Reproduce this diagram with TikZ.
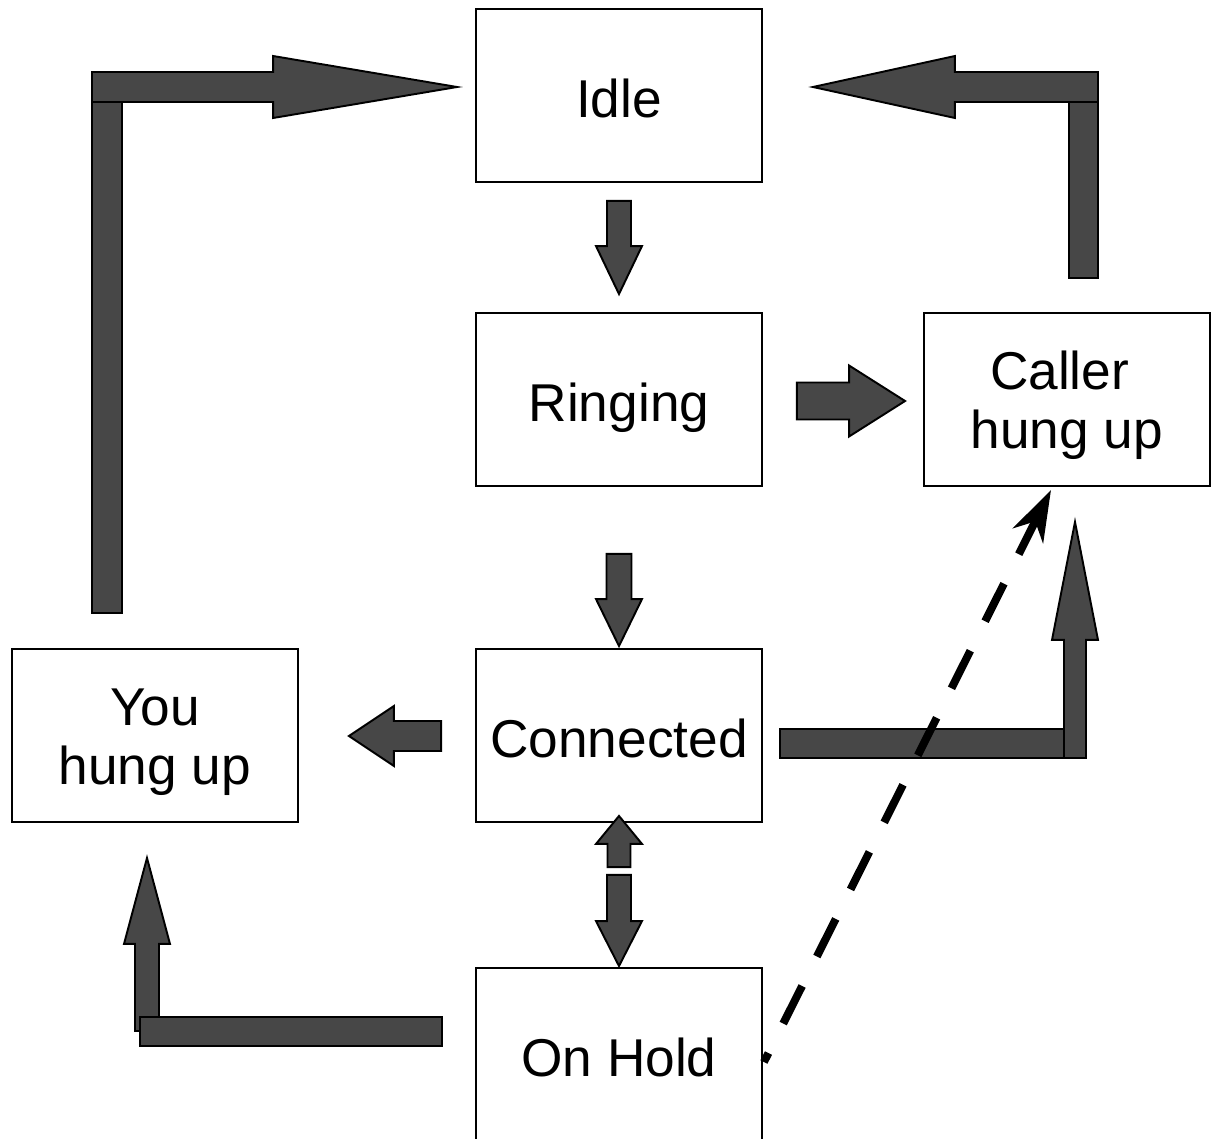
\documentclass[tikz,border=0pt]{standalone}
\usepackage{fontspec}
\setmainfont{Liberation Sans}
\usetikzlibrary{calc, arrows.meta}

\definecolor{arrowgray}{HTML}{474747}
\tikzset{
  box/.style={draw, line width=1.1pt, minimum width=5.72cm, minimum height=3.46cm,
    align=center, font=\fontsize{30.3pt}{33.6pt}\selectfont,
    text height=24.5pt, text depth=0pt},
  twolines/.style={text height=56pt},
  blk/.style={draw, fill=arrowgray, line width=1.1pt, line join=miter},
  hup/.style={line width=4.5pt, dash pattern=on 23.9pt off 18.8pt, dash phase=18.2pt,
    -{Stealth[length=29pt, width=19pt, inset=9pt]}}
}
% block arrow: from, to, shaft half width, head half width, head length
\newcommand{\blockarr}[5]{%
  \coordinate (hb) at ($(#2)!#5*0.02cm!(#1)$);
  \draw[blk] ($(#1)!#3*0.02cm!90:(#2)$) -- ($(hb)!#3*0.02cm!90:(#2)$)
    -- ($(hb)!#4*0.02cm!90:(#2)$) -- (#2)
    -- ($(hb)!#4*0.02cm!-90:(#2)$) -- ($(hb)!#3*0.02cm!-90:(#2)$)
    -- ($(#1)!#3*0.02cm!-90:(#2)$) -- cycle;}

\begin{document}
\begin{tikzpicture}[x=0.02cm, y=-0.02cm]
  \useasboundingbox (0,0) rectangle (1218,1139);
  \clip (0,0) rectangle (1218,1139);

  \node[box] (idle) at (619,95.5) {Idle};
  \node[box] (ringing) at (619,399.5) {Ringing};
  \node[box,twolines] (caller) at (1067,399.5) {Caller\hspace*{0.28em}\\hung up};
  \node[box,twolines] (you) at (155,735.5) {You\\hung up};
  \node[box] (connected) at (619,735.5) {Connected};
  \node[box] (onhold) at (619,1054.5) {On Hold};

  % straight arrows
  \coordinate (a1) at ($(idle.south)+(0,18)$);
  \coordinate (a2) at ($(ringing.north)+(0,-18)$);
  \blockarr{a1}{a2}{12}{23}{48}
  \coordinate (b1) at ($(ringing.east)+(34,1.5)$);
  \coordinate (b2) at ($(caller.west)+(-18,1.5)$);
  \blockarr{b1}{b2}{18.5}{35.5}{56}
  \coordinate (c1) at ($(ringing.south)+(0,67)$);
  \coordinate (c2) at ($(connected.north)+(0,-2)$);
  \blockarr{c1}{c2}{12.5}{23}{47}
  \coordinate (d1) at ($(connected.west)+(-34,0.5)$);
  \coordinate (d2) at ($(you.east)+(50,0.5)$);
  \blockarr{d1}{d2}{15}{30}{45}
  \coordinate (e1) at ($(onhold.north)+(0,-100)$);
  \coordinate (e2) at ($(connected.south)+(0,-7)$);
  \blockarr{e1}{e2}{11.5}{23}{28}
  \coordinate (e3) at ($(connected.south)+(0,52)$);
  \coordinate (e4) at ($(onhold.north)+(0,-1)$);
  \blockarr{e3}{e4}{12}{23}{45}

  % you hung up -> idle
  \draw[blk] (92,102) rectangle (122,613);
  \coordinate (f1) at (92,87);
  \coordinate (f2) at ($(idle.west)+(-18,-8.5)$);
  \blockarr{f1}{f2}{15}{31}{184}

  % caller hung up -> idle
  \draw[blk] (1069,102) rectangle (1098,278);
  \coordinate (g1) at (1098,87);
  \coordinate (g2) at ($(idle.east)+(50,-8.5)$);
  \blockarr{g1}{g2}{15}{31}{142}

  % connected -> caller hung up
  \draw[blk] (780,729) rectangle (1064,758);
  \coordinate (h1) at (1075,758);
  \coordinate (h2) at ($(caller.south)+(8,35)$);
  \blockarr{h1}{h2}{11}{23}{118}

  % on hold -> you hung up
  \coordinate (k1) at (147,1031);
  \coordinate (k2) at ($(you.south)+(-8,35)$);
  \blockarr{k1}{k2}{12}{23}{86}
  \draw[blk] (140,1017) rectangle (442,1046);

  % on hold -> caller hung up
  \coordinate (m1) at ($(onhold.east)+(1,7.5)$);
  \coordinate (m2) at ($(caller.south)+(-16,3)$);
  \draw[hup] (m1) -- (m2);
\end{tikzpicture}
\end{document}
